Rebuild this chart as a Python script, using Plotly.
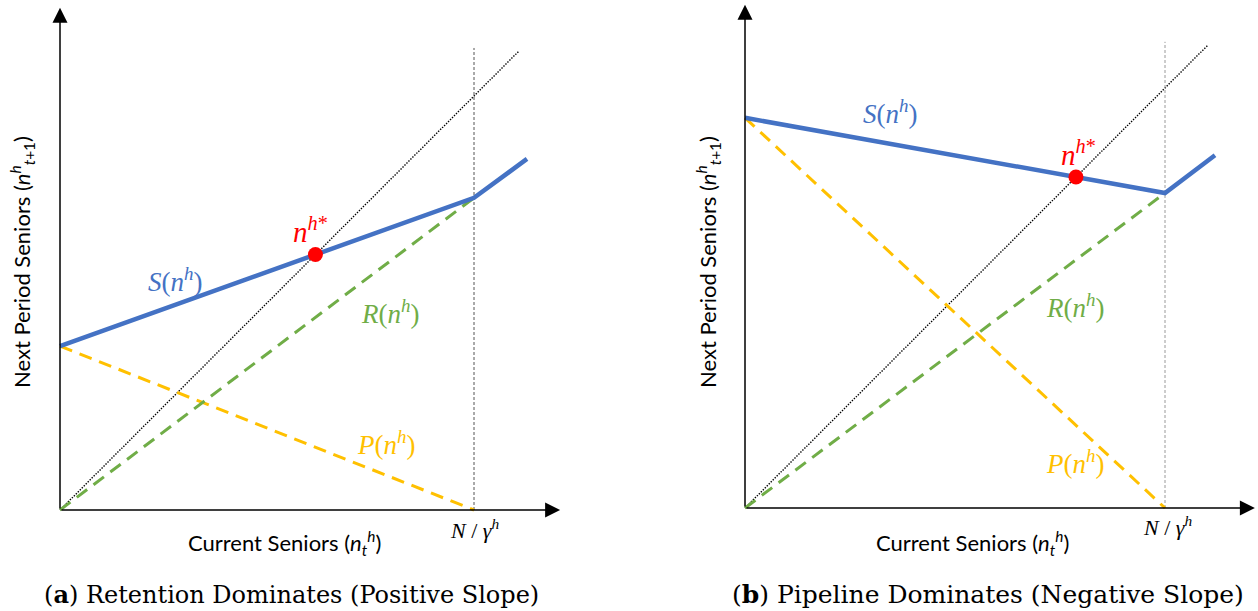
import plotly.graph_objects as go

W, H = 1258, 611

# ---------------- data (units: N/gamma^h = 1) ----------------
# Panel (a): retention dominates
a_s_x = [0.0, 1.0, 1.128]
a_s_y = [0.396, 0.754, 0.848]
a_r_x = [0.0, 1.0]
a_r_y = [0.0, 0.754]
a_p_x = [0.0, 1.0]
a_p_y = [0.396, 0.0]
a_diag = [0.0, 1.108]
a_vline_y = [0.0, 1.116]
a_eq = 0.617

# Panel (b): pipeline dominates
b_s_x = [0.0, 1.0, 1.119]
b_s_y = [0.929, 0.750, 0.840]
b_r_x = [0.0, 1.0]
b_r_y = [0.0, 0.750]
b_p_x = [0.0, 1.0]
b_p_y = [0.929, 0.0]
b_diag = [0.0, 1.102]
b_vline_y = [0.0, 1.110]
b_eq = 0.788

x_label = "Current Seniors (<i>n</i><sub><i>t</i></sub><sup><i>h</i></sup>)"
y_label = "Next Period Seniors (<i>n</i><sup><i>h</i></sup><sub><i>t</i>+1</sub>)"
captions = ["(<b>a</b>) Retention Dominates (Positive Slope)",
            "(<b>b</b>) Pipeline Dominates (Negative Slope)"]

BLUE = "#4472C4"
GREEN = "#70AD47"
YELLOW = "#FFC000"
RED = "#FF0000"

SANS = "Lato"
MATH = "Liberation Serif"
CAP = "DejaVu Serif"

fig = go.Figure()


def px_dom_x(p0, p1):
    return [p0 / W, p1 / W]


def px_dom_y(top, bottom):
    return [(H - bottom) / H, (H - top) / H]


panels = [
    dict(xa="x", ya="y", ox=60, oy=510, scale=414, xl=40, xr=580,
         s=(a_s_x, a_s_y), r=(a_r_x, a_r_y), p=(a_p_x, a_p_y),
         diag=a_diag, vline=a_vline_y, eq=a_eq, vcol="#555555",
         xtip=1.208, ytip=1.213,
         lab=dict(S=(0.278, 0.556), E=(0.604, 0.676), R=(0.797, 0.478),
                  P=(0.787, 0.162), N=(1.0, -0.045)),
         ylab=(22, 262), xlab=(284, 543), cap=(291, 594), caption=captions[0], capsize=24),
    dict(xa="x2", ya="y2", ox=745, oy=508, scale=420, xl=725, xr=1258,
         s=(b_s_x, b_s_y), r=(b_r_x, b_r_y), p=(b_p_x, b_p_y),
         diag=b_diag, vline=b_vline_y, eq=b_eq, vcol="#9a9a9a",
         xtip=1.214, ytip=1.198,
         lab=dict(S=(0.345, 0.943), E=(0.793, 0.845), R=(0.786, 0.481),
                  P=(0.786, 0.110), N=(1.007, -0.043)),
         ylab=(708, 262), xlab=(972, 543), cap=(988, 594), caption=captions[1], capsize=25),
]

annotations = []
for i, pn in enumerate(panels):
    xa, ya = pn["xa"], pn["ya"]
    common = dict(xaxis=xa, yaxis=ya, mode="lines", showlegend=False,
                  hoverinfo="skip", cliponaxis=False)
    fig.add_trace(go.Scatter(x=pn["diag"], y=pn["diag"],
                             line=dict(color="black", width=1.4, dash="1.4px,1.4px"), **common))
    fig.add_trace(go.Scatter(x=[1.0, 1.0], y=pn["vline"],
                             line=dict(color=pn["vcol"], width=1, dash="3px,2px"), **common))
    fig.add_trace(go.Scatter(x=pn["p"][0], y=pn["p"][1],
                             line=dict(color=YELLOW, width=3, dash="13px,8px"), **common))
    fig.add_trace(go.Scatter(x=pn["r"][0], y=pn["r"][1],
                             line=dict(color=GREEN, width=3, dash="13px,8px"), **common))
    fig.add_trace(go.Scatter(x=pn["s"][0], y=pn["s"][1],
                             line=dict(color=BLUE, width=4.5), **common))
    fig.add_trace(go.Scatter(x=[pn["eq"]], y=[pn["eq"]], mode="markers",
                             marker=dict(color=RED, size=15), xaxis=xa, yaxis=ya,
                             showlegend=False, hoverinfo="skip", cliponaxis=False))

    for (tx, ty) in [(pn["xtip"], 0.0), (0.0, pn["ytip"])]:
        annotations.append(dict(x=tx, y=ty, ax=0.0, ay=0.0, xref=xa, yref=ya,
                                axref=xa, ayref=ya, text="", showarrow=True,
                                arrowhead=2, arrowsize=2.0, arrowwidth=1.5,
                                arrowcolor="black", standoff=0, startstandoff=0))

    lab = pn["lab"]

    def mf(c, s):
        return dict(family=MATH, size=s, color=c)

    center = dict(xanchor="center", yanchor="middle", showarrow=False)
    annotations += [
        dict(x=lab["S"][0], y=lab["S"][1], xref=xa, yref=ya,
             text="<i>S</i>(<i>n</i><sup><i>h</i></sup>)", font=mf(BLUE, 27), **center),
        dict(x=lab["R"][0], y=lab["R"][1], xref=xa, yref=ya,
             text="<i>R</i>(<i>n</i><sup><i>h</i></sup>)", font=mf(GREEN, 27), **center),
        dict(x=lab["P"][0], y=lab["P"][1], xref=xa, yref=ya,
             text="<i>P</i>(<i>n</i><sup><i>h</i></sup>)", font=mf(YELLOW, 27), **center),
        dict(x=lab["E"][0], y=lab["E"][1], xref=xa, yref=ya,
             text="<i>n</i><sup><i>h</i>*</sup>", font=mf(RED, 29), **center),
        dict(x=lab["N"][0], y=lab["N"][1], xref=xa, yref=ya,
             text="<i>N</i> / <i>γ</i><sup><i>h</i></sup>", font=mf("black", 22), **center),
        dict(x=pn["ylab"][0] / W, y=(H - pn["ylab"][1]) / H, xref="paper", yref="paper",
             textangle=-90, text=y_label,
             font=dict(family=SANS, size=22, color="black"), **center),
        dict(x=pn["xlab"][0] / W, y=(H - pn["xlab"][1]) / H, xref="paper", yref="paper",
             text=x_label, font=dict(family=SANS, size=22, color="black"), **center),
        dict(x=pn["cap"][0] / W, y=(H - pn["cap"][1]) / H, xref="paper", yref="paper",
             text=pn["caption"], font=dict(family=CAP, size=pn["capsize"], color="black"),
             **center),
    ]

    ox, oy, sc = pn["ox"], pn["oy"], pn["scale"]
    top, bottom = 0, 540
    xr = [(pn["xl"] - ox) / sc, (pn["xr"] - ox) / sc]
    yr = [(oy - bottom) / sc, (oy - top) / sc]
    axname = "xaxis" if i == 0 else "xaxis2"
    ayname = "yaxis" if i == 0 else "yaxis2"
    fig.update_layout(**{
        axname: dict(domain=px_dom_x(pn["xl"], pn["xr"]), range=xr, visible=False,
                     anchor=ya, fixedrange=True),
        ayname: dict(domain=px_dom_y(top, bottom), range=yr, visible=False,
                     anchor=xa, fixedrange=True),
    })

fig.update_layout(width=W, height=H, margin=dict(l=0, r=0, t=0, b=0),
                  paper_bgcolor="white", plot_bgcolor="white",
                  annotations=annotations, showlegend=False)

fig.write_html("out.html", config={"displayModeBar": False})
